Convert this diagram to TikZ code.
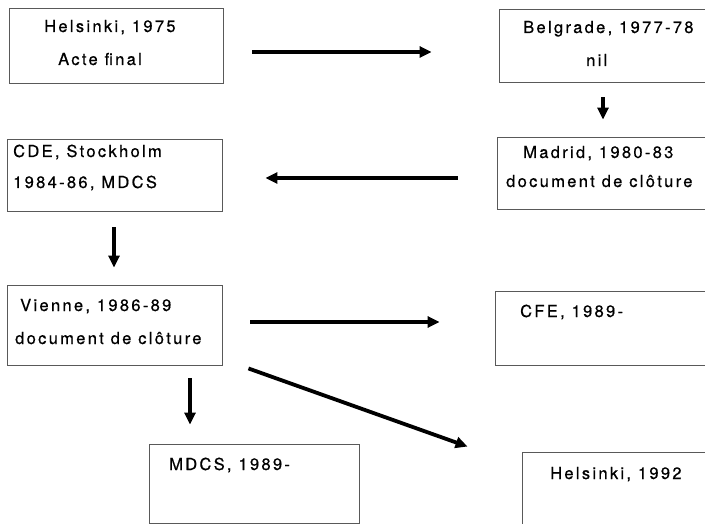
\documentclass[tikz,border=0pt]{standalone}
\usepackage{fontspec}
\setmainfont[LetterSpace=14,FakeBold=0.6]{TeX Gyre Heros}
\usetikzlibrary{arrows.meta}
\tikzset{
  box/.style={draw=black!65, line width=0.9pt, rectangle, inner sep=0pt},
  lbl/.style={anchor=base west, inner sep=0pt, font=\fontsize{16.5}{19}\selectfont},
  arr/.style={line width=3.8pt, -{Triangle[length=12pt,width=11pt]}}
}
\begin{document}
\begin{tikzpicture}[x=1pt,y=-1pt]
\useasboundingbox (0,0) rectangle (705,524);
\clip (0,0) rectangle (705,524);
\fill[white] (0,0) rectangle (705,524);
% boxes
\node[box, minimum width=214pt, minimum height=75pt] (h75) at (116,45.5) {};
\node[box, minimum width=221pt, minimum height=73pt] (bel) at (609.5,45.5) {};
\node[box, minimum width=223pt, minimum height=72pt] (mad) at (608.5,173) {};
\node[box, minimum width=215pt, minimum height=72pt] (cde) at (114.5,175) {};
\node[box, minimum width=215pt, minimum height=80pt] (vie) at (114.5,325) {};
\node[box, minimum width=225pt, minimum height=74pt] (cfe) at (607.5,328) {};
\node[box, minimum width=210pt, minimum height=79pt] (mdcs) at (254,483.5) {};
\node[box, minimum width=198pt, minimum height=78pt] (h92) at (621,491) {};
% texts
\node[lbl] (t1a) at (44,32) {Helsinki, 1975};
\node[lbl] (t1b) at (58,65) {Acte final};
\node[lbl] (t2a) at (523,33) {Belgrade, 1977-78};
\node[lbl] (t2b) at (586,66) {nil};
\node[lbl] (t3a) at (523,158) {Madrid, 1980-83};
\node[lbl] (t3b) at (506,187) {document de clôture};
\node[lbl] (t4a) at (13,157) {CDE, Stockholm};
\node[lbl] (t4b) at (13,188) {1984-86, MDCS};
\node[lbl] (t5a) at (20,311) {Vienne, 1986-89};
\node[lbl] (t5b) at (15,344) {document de clôture};
\node[lbl] (t6a) at (520,317) {CFE, 1989-};
\node[lbl] (t7a) at (169,470) {MDCS, 1989-};
\node[lbl] (t8a) at (550,479) {Helsinki, 1992};
% connectors
\draw[arr] ([xshift=29pt,yshift=-6.5pt]h75.east) -- ([xshift=-67pt,yshift=-6.5pt]bel.west);
\draw[arr] ([xshift=-6.5pt,yshift=-15pt]bel.south) -- ([xshift=-5.5pt,yshift=17pt]mad.north);
\draw[arr] ([xshift=-39pt,yshift=-5pt]mad.west) -- ([xshift=43pt,yshift=-3pt]cde.east);
\draw[arr] ([xshift=-0.5pt,yshift=-16pt]cde.south) -- ([xshift=-0.5pt,yshift=17pt]vie.north);
\draw[arr] ([xshift=28pt,yshift=3pt]vie.east) -- ([xshift=-55pt,yshift=6pt]cfe.west);
\draw[arr] ([xshift=75.5pt,yshift=-13pt]vie.south) -- ([xshift=-64pt,yshift=19pt]mdcs.north);
\draw[arr] ([xshift=26pt,yshift=-3pt]vie.south east) -- ([xshift=-54pt,yshift=5pt]h92.north west);
\end{tikzpicture}
\end{document}
